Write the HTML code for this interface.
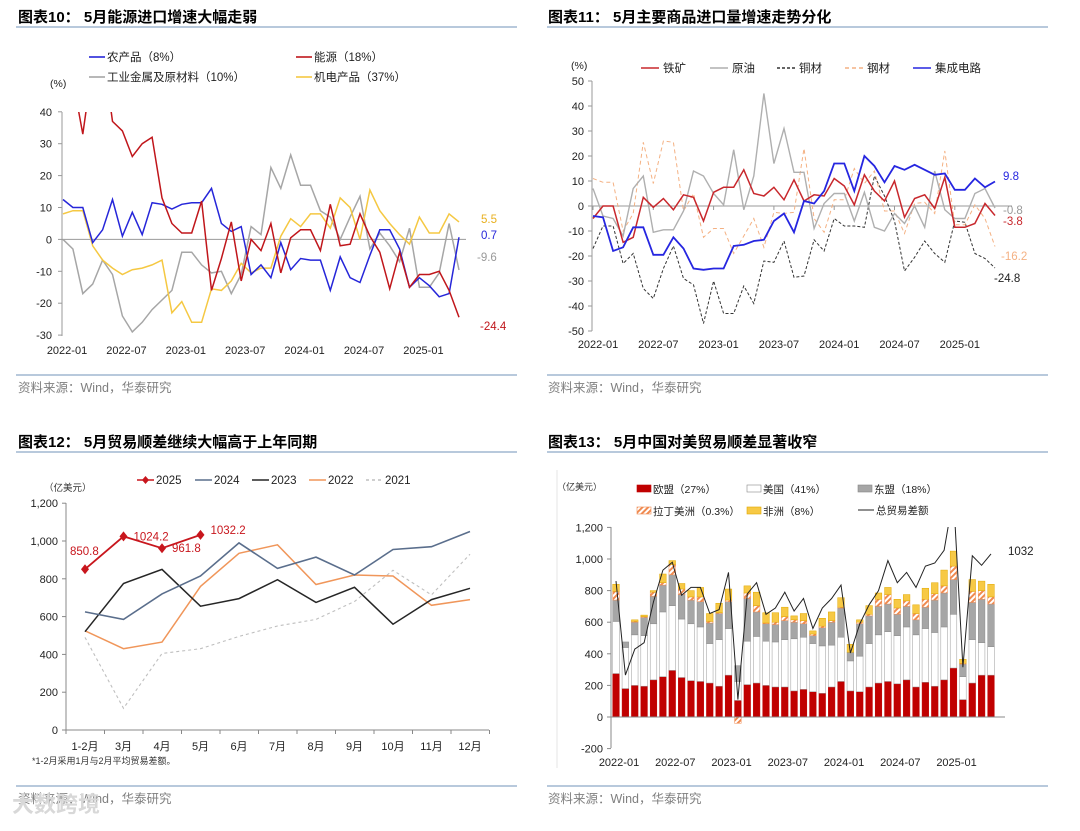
<!DOCTYPE html>
<html><head><meta charset="utf-8">
<style>
html,body{margin:0;padding:0;background:#fff;}
body{width:1080px;height:831px;overflow:hidden;position:relative;font-family:"Liberation Sans","Noto Sans CJK SC",sans-serif;}
svg{position:absolute;left:0;top:0;}
</style></head>
<body>
<svg id="c" width="1080" height="831" viewBox="0 0 1080 831" xmlns="http://www.w3.org/2000/svg">
<defs>
<pattern id="hatch" patternUnits="userSpaceOnUse" width="4" height="4" patternTransform="rotate(45)">
<rect width="4" height="4" fill="#fff"/><rect width="2" height="4" fill="#F08A50"/>
</pattern>
<clipPath id="clip10"><rect x="62" y="112" width="420" height="224"/></clipPath>
<clipPath id="clip13"><rect x="600" y="527" width="420" height="222"/></clipPath>
</defs>
<g id="root" font-family="Liberation Sans, Noto Sans CJK SC, sans-serif"></g>
</svg>
<script>
// ---------- Chart 10 data ----------
const c10Ticks = ["2022-01","2022-07","2023-01","2023-07","2024-01","2024-07","2025-01"];
const c10YTicks = [40,30,20,10,0,-10,-20,-30];
const agri = [12.5,10,10,-1,3,12.5,1,8.5,1.5,11.5,11,9.5,11,11.5,11.5,16,5,2.5,4,-11,-8,-12,-1,-9.5,-6,-6.5,-6.5,-16,-5.5,-12,-13.5,-5,3,3,-3,-15,-12,-14.5,-18,-17,0.7];
const energy = [60,50,33,55,60,37,34,26,30,32,13,5,2,2,12,-16,-6,5.5,-13,0,-3.5,5,-10.5,0.5,3,3,-3.5,11,-2,-1.5,8,1,-4,-15.5,-4,-15,-11,-11,-10,-16,-24.4];
const metals = [0,-3,-17,-14,-6.5,-11,-24,-29,-26,-22,-19,-16,-4,-4,-8,-10.5,-10,-17,-11,4,1.5,22.5,16,26.5,17,17,9,7,0,7,13.5,-3,2,-2,-7,3.5,-15,-15,-10.5,5,-9.6];
const mech = [8,9,9,-2,-6.5,-9,-11,-9.5,-9,-8,-6.5,-23,-19.5,-26,-26,-15.5,-16,-13,-7.5,-10.5,-9,-9,1,6.5,4,8,8,3.5,13,10,0,15.5,9,5,1.5,-1.5,7,2,2,8,5.5];
// ---------- Chart 11 data ----------
const c11YTicks = [50,40,30,20,10,0,-10,-20,-30,-40,-50];
const iron = [-5,0,0,-14.5,-12.5,3.5,-0.5,3,-1.5,4.5,3.5,-6,5.5,7.5,7.5,14.5,5,4,7.5,2.5,10.5,2,4.5,4,11,8,0.5,12.5,6,2,10,-4.5,3,4.5,-1,11.5,-8.5,-8.5,-7,1,-3.8];
const chip = [-4,-4.5,-18,-16.5,-8.5,-8.5,-19.5,-19.5,-12.5,-17,-25,-25.5,-25,-25,-16,-15.5,-14,-13.5,-6,-3,-10.5,2,1,6,17,17,6,20,16,9.5,16,14.5,16.5,14.5,12.5,13,6.5,6.5,11,7.5,9.8];
const crude = [7,-4,-5,-12,7,12,-10.5,-9.5,-9.5,-2,14,12,5,0.5,22.5,-1.5,12,45,17,31,13.5,13.5,-9,1,5,5,-6,5.5,-8.5,-10,-3,-7,0,-8.5,14,-1.5,-5,-5,5,7,-0.8];
const steel = [11,9.5,9.5,-10,-3,25.5,9,26,25.5,-2,5,-12.5,-9,-9,-19,-12,-5,-16.5,-2.5,-3,-2.5,23,-5,-10.5,2.5,2.5,15,9,14,-2,-2,-11,1,1.5,-3,22,-7.5,-7.5,0.5,-5,-16.2];
const copper = [-17,-8,-8,-23,-19,-33,-37,-25,-16,-29,-31.5,-47,-30,-43,-43,-32,-39,-22,-22.5,-14,-28.5,-28,-13.5,-18,-5,-8,-8,-8.5,12,4,-6,-26,-20.5,-14,-19,-22.5,-6,-6.5,-19,-21,-24.8];
// ---------- Chart 12 data ----------
const c12Cats = ["1-2月","3月","4月","5月","6月","7月","8月","9月","10月","11月","12月"];
const c12YTicks = [1200,1000,800,600,400,200,0];
const y2025 = [850.8,1024.2,961.8,1032.2];
const y2025Labels = ["850.8","1024.2","961.8","1032.2"];
const y2024 = [625,585,720,815,990,855,915,820,955,970,1050];
const y2023 = [520,775,850,655,695,795,675,755,560,690,750];
const y2022 = [525,430,465,760,935,980,770,820,815,660,690];
const y2021 = [490,115,405,430,495,550,585,680,845,715,930];
// ---------- Chart 13 data ----------
const c13YTicks = [1200,1000,800,600,400,200,0,-200];
const eu = [275,180,200,195,235,255,295,250,230,225,215,195,265,105,205,215,200,190,190,165,175,160,150,190,225,165,160,190,215,225,210,235,190,220,195,235,310,110,215,265,265];
const us = [330,260,320,320,355,410,410,370,360,345,250,295,295,120,275,295,280,285,300,330,330,305,300,265,280,190,225,275,305,315,305,335,330,340,340,335,340,145,275,205,180];
const asean = [135,35,80,115,175,170,195,155,150,160,130,165,170,100,270,155,110,110,120,105,85,50,115,145,185,55,205,175,180,175,135,130,95,135,205,215,220,80,235,275,270];
const latam = [55,0,5,5,25,15,65,35,20,30,10,5,10,-40,35,40,5,15,25,15,20,10,10,10,5,0,10,10,45,60,40,35,40,50,40,45,85,5,70,55,45];
const africa = [45,0,10,10,10,55,25,35,40,60,50,60,70,0,45,85,65,60,60,25,45,20,50,55,60,50,15,55,40,45,55,40,55,70,70,100,95,25,75,60,80];
const total = [860,265,430,470,730,930,980,770,820,820,655,680,915,110,780,850,650,690,790,670,750,560,690,750,835,405,590,710,800,990,850,915,820,955,975,1055,1400,315,1020,960,1032];

const NS="http://www.w3.org/2000/svg";
const root=document.getElementById('root');
function mk(tag,attrs,parent,text){const e=document.createElementNS(NS,tag);for(const k in attrs)e.setAttribute(k,attrs[k]);if(text!==undefined)e.textContent=text;(parent||root).appendChild(e);return e;}
function txt(x,y,s,size,fill,anchor,weight,parent){const t=mk('text',{x:x,y:y,'font-size':size,fill:fill,'text-anchor':anchor||'start','font-weight':weight||'normal'},parent,s);return t;}
function pathFrom(vals,xf,yf){let d='';vals.forEach((v,i)=>{if(v===null)return;d+=(d?'L':'M')+xf(i).toFixed(1)+','+yf(v).toFixed(1);});return d;}

const titles=[[18,22,"图表10： 5月能源进口增速大幅走弱","title-chart10"],[548,22,"图表11： 5月主要商品进口量增速走势分化","title-chart11"],[18,447,"图表12： 5月贸易顺差继续大幅高于上年同期","title-chart12"],[548,447,"图表13： 5月中国对美贸易顺差显著收窄","title-chart13"]];
titles.forEach(t=>{const e=txt(t[0],t[1],t[2],15,'#000','start','bold');

});
[[16,517,27],[547,1048,27],[16,517,452],[547,1048,452],[16,517,375],[547,1048,375],[16,517,786],[547,1048,786]].forEach(r=>{const l=mk('line',{x1:r[0],x2:r[1],y1:r[2],y2:r[2],stroke:'#8EA9C8','stroke-width':1.2});

});
[[18,392],[548,392],[18,803],[548,803]].forEach(p=>{const e=txt(p[0],p[1],"资料来源：Wind，华泰研究",12.5,'#7f7f7f');

});

// ---------------- Chart 10 ----------------
(function(){
const g=mk('g',{});


const xf=i=>63+9.9*i, yf=v=>239.4-v*3.19;
mk('line',{x1:62,x2:62,y1:112,y2:336,stroke:'#999'},g);
c10YTicks.forEach(v=>{mk('line',{x1:58,x2:62,y1:yf(v),y2:yf(v),stroke:'#999'},g);const t=txt(52,yf(v)+4,String(v),11,'#222','end',null,g);

});
mk('line',{x1:62,x2:466,y1:yf(0),y2:yf(0),stroke:'#999'},g);
c10Ticks.forEach((s,k)=>{const t=txt(xf(k*6)+4,354,s,11,'#222','middle',null,g);

});
txt(50,87,"(%)",10.5,'#222','start',null,g);
const cg=mk('g',{'clip-path':'url(#clip10)'},g);
[[metals,'#A6A6A6','series-metals'],[mech,'#F5C842','series-mech'],[agri,'#2626D9','series-agri'],[energy,'#C0161B','series-energy']].forEach(s=>{const p=mk('path',{d:pathFrom(s[0],xf,yf),fill:'none',stroke:s[1],'stroke-width':1.5},cg);

});
txt(481,223,"5.5",11.5,'#E8B020','start',null,g);
txt(481,239,"0.7",11.5,'#2626D9','start',null,g);
txt(477,261,"-9.6",11.5,'#999','start',null,g);
txt(480,330,"-24.4",11.5,'#C0161B','start',null,g);
const lg=[[89,57,'#2626D9',"农产品（8%）"],[296,57,'#C0161B',"能源（18%）"],[89,77,'#A6A6A6',"工业金属及原材料（10%）"],[296,77,'#F5C842',"机电产品（37%）"]];
lg.forEach(l=>{const e=mk('g',{},g);


mk('line',{x1:l[0],x2:l[0]+16,y1:l[1],y2:l[1],stroke:l[2],'stroke-width':1.6},e);txt(l[0]+18,l[1]+4,l[3],11.5,'#222','start',null,e);});
})();

// ---------------- Chart 11 ----------------
(function(){
const g=mk('g',{});


const xf=i=>593+10.05*i, yf=v=>206-2.5*v;
mk('line',{x1:592,x2:592,y1:81,y2:331,stroke:'#999'},g);
c11YTicks.forEach(v=>{mk('line',{x1:588,x2:592,y1:yf(v),y2:yf(v),stroke:'#999'},g);const t=txt(584,yf(v)+4,String(v),11,'#222','end',null,g);

});
mk('line',{x1:592,x2:1012,y1:yf(0),y2:yf(0),stroke:'#999'},g);
for(let k=0;k<7;k++){mk('line',{x1:xf(k*6),x2:xf(k*6),y1:206,y2:210,stroke:'#999'},g);}
c10Ticks.forEach((s,k)=>{const t=txt(xf(k*6)+5,348,s,11,'#222','middle',null,g);

});
txt(571,69,"(%)",10.5,'#222','start',null,g);
[[copper,'#333','3,2',1,'series-copper'],[steel,'#F4B183','4,3',1,'series-steel'],[crude,'#AFAFAF',null,1.4,'series-crude'],[iron,'#C8282D',null,1.5,'series-iron-ore'],[chip,'#2626E0',null,1.8,'series-ic']].forEach(s=>{const a={d:pathFrom(s[0],xf,yf),fill:'none',stroke:s[1],'stroke-width':s[3]};if(s[2])a['stroke-dasharray']=s[2];const p=mk('path',a,g);

});
txt(1003,180,"9.8",11.5,'#2626E0','start',null,g);
txt(1003,214,"-0.8",11.5,'#999','start',null,g);
txt(1003,225,"-3.8",11.5,'#C8282D','start',null,g);
txt(1001,260,"-16.2",11.5,'#F4B183','start',null,g);
txt(994,282,"-24.8",11.5,'#222','start',null,g);
const lg=[[641,'#C8282D',null,"铁矿"],[710,'#AFAFAF',null,"原油"],[777,'#333','3,2',"铜材"],[845,'#F4B183','4,3',"钢材"],[913,'#2626E0',null,"集成电路"]];
lg.forEach(l=>{const e=mk('g',{},g);


const a={x1:l[0],x2:l[0]+18,y1:68,y2:68,stroke:l[1],'stroke-width':1.5};if(l[2])a['stroke-dasharray']=l[2];mk('line',a,e);txt(l[0]+22,72,l[3],11.5,'#222','start',null,e);});
})();

// ---------------- Chart 12 ----------------
(function(){
const g=mk('g',{});


const xf=i=>85+38.5*i, yf=v=>730-v*0.189;
mk('line',{x1:66,x2:66,y1:503,y2:730,stroke:'#888'},g);
c12YTicks.forEach(v=>{mk('line',{x1:62,x2:66,y1:yf(v),y2:yf(v),stroke:'#888'},g);const t=txt(58,yf(v)+4,v.toLocaleString('en-US'),11,'#222','end',null,g);

});
mk('line',{x1:66,x2:489,y1:730,y2:730,stroke:'#888'},g);
for(let k=0;k<=11;k++){const x=66+38.5*k;mk('line',{x1:x,x2:x,y1:730,y2:734,stroke:'#888'},g);}
c12Cats.forEach((s,i)=>{const t=txt(xf(i),750,s,11,'#222','middle',null,g);

});
txt(32,764,"*1-2月采用1月与2月平均贸易差额。",9,'#333','start',null,g);
txt(44,491,"（亿美元）",9.5,'#333','start',null,g);
[[y2021,'#BFBFBF','3,3',1.1,'series-2021'],[y2022,'#F0965A',null,1.5,'series-2022'],[y2023,'#262626',null,1.5,'series-2023'],[y2024,'#5A6E8C',null,1.6,'series-2024'],[y2025,'#C8161D',null,1.8,'series-2025']].forEach(s=>{const a={d:pathFrom(s[0],xf,yf),fill:'none',stroke:s[1],'stroke-width':s[3]};if(s[2])a['stroke-dasharray']=s[2];const p=mk('path',a,g);

});
y2025.forEach((v,i)=>{const m=mk('path',{d:`M${xf(i)},${yf(v)-5}L${xf(i)+4},${yf(v)}L${xf(i)},${yf(v)+5}L${xf(i)-4},${yf(v)}Z`,fill:'#C8161D'},g);

});
const off=[[-15,-14,'start'],[10,4,'start'],[10,4,'start'],[10,-1,'start']];
y2025.forEach((v,i)=>{const t=txt(xf(i)+off[i][0],yf(v)+off[i][1],y2025Labels[i],11.5,'#C8161D',off[i][2],null,g);

});
const lg=[[137,'#C8161D',null,"2025",true],[195,'#5A6E8C',null,"2024"],[252,'#262626',null,"2023"],[309,'#F0965A',null,"2022"],[366,'#BFBFBF','3,3',"2021"]];
lg.forEach(l=>{const e=mk('g',{},g);


const a={x1:l[0],x2:l[0]+17,y1:480,y2:480,stroke:l[1],'stroke-width':1.6};if(l[2])a['stroke-dasharray']=l[2];mk('line',a,e);
if(l[4])mk('path',{d:`M${l[0]+8.5},476L${l[0]+12},480L${l[0]+8.5},484L${l[0]+5},480Z`,fill:l[1]},e);
txt(l[0]+19,484,l[3],11.5,'#222','start',null,e);});
})();

// ---------------- Chart 13 ----------------
(function(){
const g=mk('g',{});


const xb=i=>616+9.375*i, yf=v=>717-v*0.158, bw=6.6;
mk('line',{x1:557,x2:557,y1:470,y2:768,stroke:'#e6e6e6'},g);
mk('line',{x1:611,x2:611,y1:527,y2:748,stroke:'#888'},g);
c13YTicks.forEach(v=>{mk('line',{x1:607,x2:611,y1:yf(v),y2:yf(v),stroke:'#888'},g);const t=txt(603,yf(v)+4,v.toLocaleString('en-US'),11,'#222','end',null,g);

});
c10Ticks.forEach((s,k)=>{const t=txt(xb(k*6)+3,766,s,11,'#222','middle',null,g);

});
txt(557,490,"（亿美元）",9,'#333','start',null,g);
const series=[[eu,'#C00000','#C00000','bar-eu'],[us,'#fff','#999','bar-us'],[asean,'#A6A6A6','#8a8a8a','bar-asean'],[latam,'url(#hatch)','#F08A50','bar-latam'],[africa,'#F7C945','#E0A800','bar-africa']];
eu.forEach((_,i)=>{let pos=0,neg=0;series.forEach(s=>{const v=s[0][i];if(!v)return;let y0,y1;if(v>0){y0=pos;y1=pos+v;pos=y1;}else{y0=neg;y1=neg+v;neg=y1;}
const r=mk('rect',{x:xb(i)-bw/2,y:Math.min(yf(y0),yf(y1)),width:bw,height:Math.abs(yf(y0)-yf(y1)),fill:s[1],stroke:s[2],'stroke-width':0.5},g);

});});
mk('line',{x1:611,x2:1005,y1:717,y2:717,stroke:'#888'},g);
const cg=mk('g',{'clip-path':'url(#clip13)'},g);
const tl=mk('path',{d:pathFrom(total,xb,yf),fill:'none',stroke:'#222','stroke-width':1},cg);


txt(1008,555,"1032",11.5,'#222','start',null,g);
const lg=[[637,489,'#C00000','#C00000',"欧盟（27%）"],[747,489,'#fff','#888',"美国（41%）"],[858,489,'#A6A6A6','#888',"东盟（18%）"],[637,511,'url(#hatch)','#F08A50',"拉丁美洲（0.3%）"],[747,511,'#F7C945','#E0A800',"非洲（8%）"]];
lg.forEach(l=>{const e=mk('g',{},g);


mk('rect',{x:l[0],y:l[1]-4,width:14,height:7,fill:l[2],stroke:l[3],'stroke-width':0.6},e);txt(l[0]+16,l[1]+4,l[4],10.5,'#222','start',null,e);});
const e=mk('g',{},g);


mk('line',{x1:858,x2:874,y1:510,y2:510,stroke:'#222'},e);txt(876,514,"总贸易差额",10.5,'#222','start',null,e);
})();
const wm=txt(12,812,"大数跨境",22,'#d8d8d8','start','bold');


</script>
</body></html>
